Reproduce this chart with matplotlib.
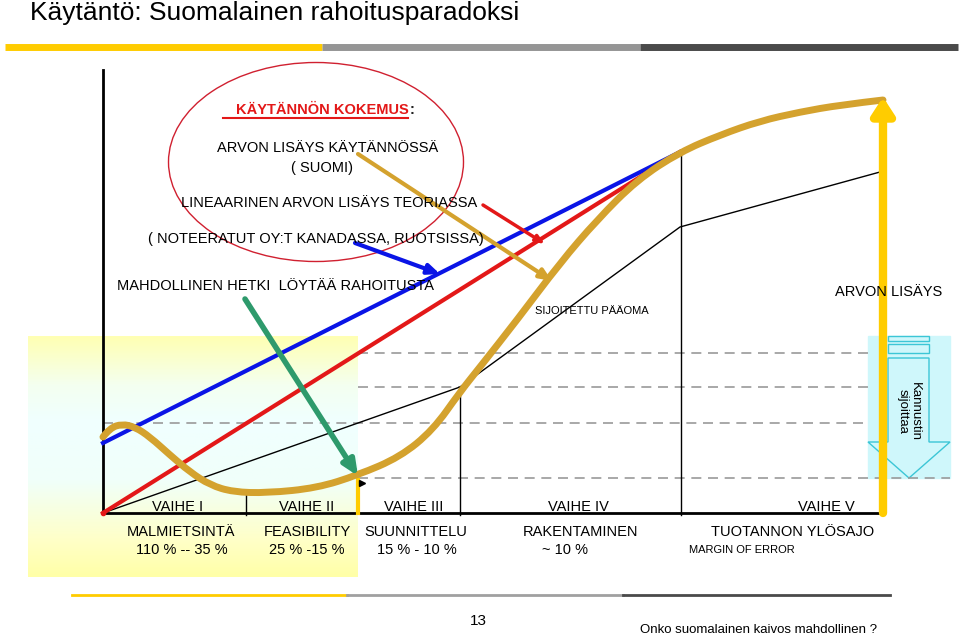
import matplotlib.pyplot as plt
import numpy as np
from matplotlib.patches import Ellipse, Polygon, Rectangle, PathPatch
from matplotlib.path import Path
from matplotlib.colors import LinearSegmentedColormap

plt.rcParams['font.family'] = ['Liberation Sans', 'DejaVu Sans']

# --- values (pixel space, y grows downward) ---
curve_x = [103, 110, 122, 135, 150, 170, 190, 210, 233, 267, 317, 358, 400, 433,
           460, 480, 517, 560, 597, 637, 680, 720, 760, 800, 840, 883]
curve_y = [437, 428, 424, 427, 437, 455, 472, 485, 492, 493, 488, 475, 457, 430,
           392, 367, 320, 263, 220, 180, 152, 135, 121, 112, 105, 100]

blue_x = [103, 680]
blue_y = [443, 152]
red_x = [103, 680]
red_y = [513, 152]
capital_x = [103, 460, 680, 880]
capital_y = [513, 387, 227, 172]

bound_x = [246, 358, 460, 681]
bound_top = [493, 480, 387, 152]

grid_y = [353, 387, 423, 478]
grid_x0 = [358, 358, 103, 358]
grid_x1 = [868, 868, 868, 950]

phase_names = ['VAIHE I', 'VAIHE II', 'VAIHE III', 'VAIHE IV', 'VAIHE V']
phase_x = [178, 307, 414, 578, 826]
stage_names = ['MALMIETSINTÄ', 'FEASIBILITY', 'SUUNNITTELU', 'RAKENTAMINEN', 'TUOTANNON YLÖSAJO']
stage_x = [181, 307, 416, 580, 793]
error_names = ['110 % -- 35 %', '25 % -15 %', '15 % - 10 %', '~ 10 %', 'MARGIN OF ERROR']
error_x = [182, 307, 417, 565, 742]

gold = '#D4A22E'
fig = plt.figure(figsize=(9.59, 6.36), dpi=100)
ax = fig.add_axes([0, 0, 1, 1])
ax.set_xlim(0, 959)
ax.set_ylim(636, 0)
ax.axis('off')

# title and header bar
ax.text(30, 13, 'Käytäntö: Suomalainen rahoitusparadoksi', fontsize=19,
        va='center', ha='left')
ax.plot([5, 322], [47, 47], color='#FFCC00', lw=5, solid_capstyle='butt')
ax.plot([322, 640], [47, 47], color='#959595', lw=5, solid_capstyle='butt')
ax.plot([640, 958], [47, 47], color='#4A4A4A', lw=5, solid_capstyle='butt')

# gradient background of the early phases
cmap = LinearSegmentedColormap.from_list('bg', [(0, '#FFFFB4'), (0.2, '#F4FFF0'), (0.35, '#F0FFFF'),
                                                (0.6, '#F0FFFA'), (0.85, '#FFFFC8'), (1, '#FFFFA8')])
ax.imshow(np.linspace(0, 1, 100).reshape(-1, 1), cmap=cmap, aspect='auto',
          extent=[28, 358, 577, 336], zorder=0)

# Kannustin box
ax.add_patch(Rectangle((868, 336), 82, 142, color='#CFF7FB', zorder=0))
cy = '#3CC6D6'
ax.add_patch(Rectangle((888, 336), 41, 5, fill=False, ec=cy, lw=1))
ax.add_patch(Rectangle((888, 344), 41, 9, fill=False, ec=cy, lw=1))
ax.add_patch(Polygon([(888, 358), (929, 358), (929, 442), (950, 442), (909, 478),
                      (868, 442), (888, 442)], closed=True, fill=False, ec=cy, lw=1))
ax.text(909, 411, 'Kannustin\nsijoittaa', rotation=270, ha='center', va='center',
        fontsize=9.5, linespacing=1.0, zorder=6)

# dashed guides
for y, x0, x1 in zip(grid_y, grid_x0, grid_x1):
    ax.plot([x0, x1], [y, y], color='#9A9A9A', lw=1.2, dashes=(6, 4), zorder=1)

# axes
ax.plot([103, 103], [70, 513], color='black', lw=2)
ax.plot([103, 883], [513, 513], color='black', lw=2)
for x, top in zip(bound_x, bound_top):
    if x == 358:
        ax.plot([x, x], [top, 513], color='#FFCC00', lw=3)
    else:
        ax.plot([x, x], [top, 515], color='black', lw=1)
ax.plot([362], [483], marker='>', color='black', ms=5)

# lines
ax.plot(capital_x, capital_y, color='black', lw=1)
ax.plot(blue_x, blue_y, color='#0A14E6', lw=3)
ax.plot(red_x, red_y, color='#E31818', lw=3)

# smooth value curve: quadratic spline through the read points
pts = np.column_stack([curve_x, curve_y]).astype(float)
verts = [pts[0]]
codes = [Path.MOVETO]
for i in range(1, len(pts) - 1):
    mid = (pts[i] + pts[i + 1]) / 2 if i < len(pts) - 2 else pts[i + 1]
    verts += [pts[i], mid]
    codes += [Path.CURVE3, Path.CURVE3]
ax.add_patch(PathPatch(Path(verts, codes), fill=False, ec=gold, lw=5,
                       capstyle='round', joinstyle='round', zorder=3))
ax.plot([103], [513], 'o', color='#E31818', ms=3)

# yellow value arrow
ax.annotate('', xy=(883, 97), xytext=(883, 513),
            arrowprops=dict(arrowstyle='-|>,head_length=1.0,head_width=0.65', color='#FFCC00',
                            lw=6, shrinkA=0, shrinkB=0), zorder=4)

# pointer arrows
ax.annotate('', xy=(358, 476), xytext=(245, 299),
            arrowprops=dict(arrowstyle='-|>,head_length=0.9,head_width=0.4', color='#2E9A6C',
                            lw=4, shrinkA=0, shrinkB=0), zorder=4)
ax.annotate('', xy=(440, 274), xytext=(355, 243),
            arrowprops=dict(arrowstyle='-|>,head_length=0.7,head_width=0.3', color='#0A14E6',
                            lw=3, shrinkA=0, shrinkB=0))
ax.annotate('', xy=(545, 244), xytext=(483, 205),
            arrowprops=dict(arrowstyle='-|>,head_length=0.5,head_width=0.2', color='#E31818',
                            lw=2.5, shrinkA=0, shrinkB=0))
ax.annotate('', xy=(552, 281), xytext=(358, 154),
            arrowprops=dict(arrowstyle='-|>,head_length=0.7,head_width=0.3', color=gold,
                            lw=3, shrinkA=0, shrinkB=0))

# ellipse callout
ax.add_patch(Ellipse((316, 162), 295, 199, fill=False, ec='#D02030', lw=1))
fs = 10.5
ax.text(322, 110, 'KÄYTÄNNÖN KOKEMUS', color='#E31818', fontsize=fs, weight='bold',
        ha='center', va='center')
ax.text(410, 110, ':', color='#222222', fontsize=fs, weight='bold', ha='left', va='center')
ax.plot([223, 408], [118, 118], color='#E31818', lw=1.5)
ax.text(328, 148, 'ARVON LISÄYS KÄYTÄNNÖSSÄ', fontsize=fs, ha='center', va='center')
ax.text(322, 168, '( SUOMI)', fontsize=fs, ha='center', va='center')
ax.text(329, 203, 'LINEAARINEN ARVON LISÄYS TEORIASSA', fontsize=fs, ha='center', va='center')
ax.text(316, 239, '( NOTEERATUT OY:T KANADASSA, RUOTSISSA)', fontsize=fs, ha='center', va='center')
ax.text(117, 286, 'MAHDOLLINEN HETKI  LÖYTÄÄ RAHOITUSTA', fontsize=fs, ha='left', va='center')
ax.text(535, 311, 'SIJOITETTU PÄÄOMA', fontsize=8, ha='left', va='center')
ax.text(889, 292, 'ARVON LISÄYS', fontsize=fs, ha='center', va='center', zorder=6)

# phase labels
for name, x in zip(phase_names, phase_x):
    ax.text(x, 507, name, fontsize=fs, ha='center', va='center')
for name, x in zip(stage_names, stage_x):
    ax.text(x, 532, name, fontsize=fs, ha='center', va='center')
for name, x in zip(error_names, error_x):
    ax.text(x, 550, name, fontsize=8 if name.startswith('MARGIN') else fs,
            ha='center', va='center')

# footer
ax.plot([72, 347], [595, 595], color='#FFCC00', lw=2)
ax.plot([347, 623], [595, 595], color='#A0A0A0', lw=2)
ax.plot([623, 890], [595, 595], color='#4A4A4A', lw=2)
ax.text(478, 621, '13', fontsize=11, ha='center', va='center')
ax.text(759, 630, 'Onko suomalainen kaivos mahdollinen ?', fontsize=9.5, ha='center', va='center')

fig.savefig('out.png', dpi=100)
